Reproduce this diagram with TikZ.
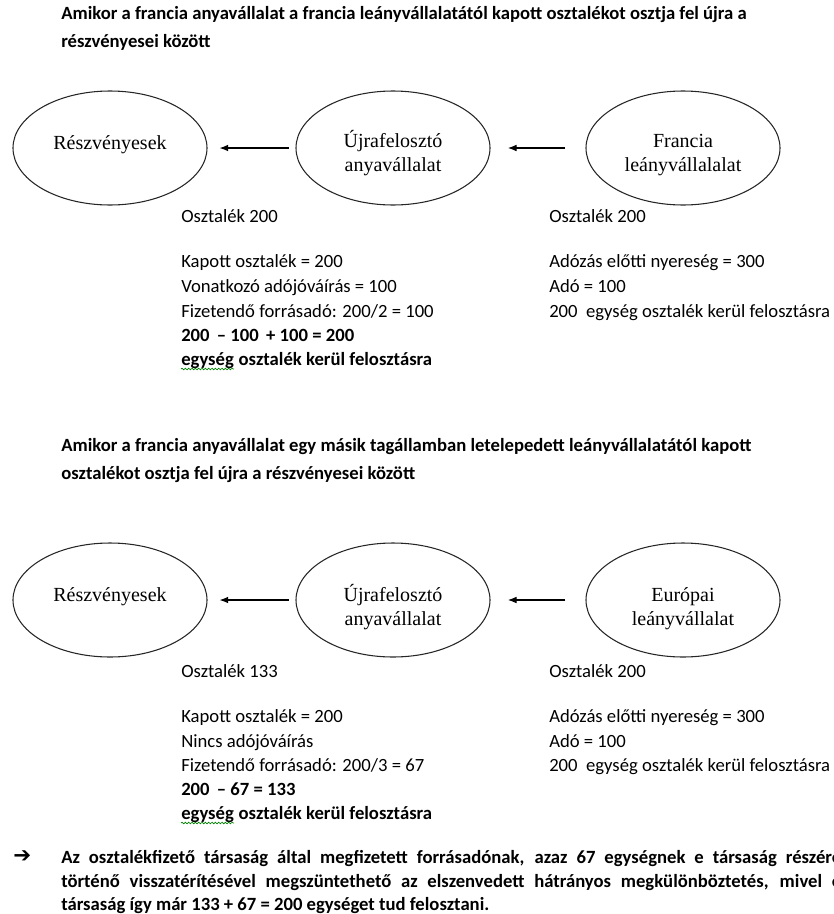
\documentclass[tikz,border=0pt]{standalone}
\usepackage{fontspec}
\setmainfont{Carlito}
\newfontfamily\tnr{Liberation Serif}
\newfontfamily\djv{DejaVu Sans}
\usetikzlibrary{arrows.meta,shapes.geometric,decorations.pathmorphing}
\begin{document}
\begin{tikzpicture}[x=0.75pt,y=-0.75pt,
  txt/.style={anchor=base west,inner sep=0pt,font=\fontsize{14}{17}\selectfont},
  btxt/.style={anchor=base west,inner sep=0pt,font=\fontsize{14}{17}\selectfont\bfseries},
  oval/.style={draw=black!85,line width=0.8pt,ellipse,minimum width=145.5pt,minimum height=85.5pt,inner sep=0pt},
  olabel/.style={inner sep=0pt,anchor=base,font=\tnr\fontsize{15}{18}\selectfont},
  arr/.style={-{Latex[length=6.5pt,width=5pt]},line width=0.8pt},
  wavy/.style={draw=green!50!black,decorate,decoration={snake,amplitude=0.6pt,segment length=2.5pt},line width=0.5pt}]
\useasboundingbox (0,0) rectangle (834,914);
\clip (0,0) rectangle (834,914);

% ---------- part 1 ----------
\node[btxt] (t1a) at (61,19) {Amikor a francia anyavállalat a francia leányvállalatától kapott osztalékot osztja fel újra a};
\node[btxt] (t1b) at (61,47) {részvényesei között};

\node[oval] (r1) at (110,148) {};
\node[oval] (u1) at (393,148) {};
\node[oval] (f1) at (683,148) {};
\node[olabel] (r1t) at (110,149) {Részvényesek};
\node[olabel] (u1a) at (393,147) {Újrafelosztó};
\node[olabel] (u1b) at (393,171) {anyavállalat};
\node[olabel] (f1a) at (683,147) {Francia};
\node[olabel] (f1b) at (683,171) {leányvállalalat};
\draw[arr,shorten <=5pt,shorten >=9pt] (u1) -- (r1);
\draw[arr,shorten <=15pt,shorten >=13pt] (f1) -- (u1);

\node[txt] (l1a) at (181,222) {Osztalék 200};
\node[txt] (l1b) at (181,267) {Kapott osztalék = 200};
\node[txt] (l1c) at (181,292) {Vonatkozó adójóváírás = 100};
\node[txt] (l1d) at (181,317) {Fizetendő forrásadó: 200/2 = 100};
\node[btxt] (l1e) at (181,341) {200 \,– 100 \,+ 100 = 200};
\node[btxt] (l1f) at (181,365) {egység};
\node[btxt,anchor=base west] (l1g) at (l1f.base east) {\ osztalék kerül felosztásra};
\draw[wavy] ([yshift=-3pt]l1f.base west) -- ([yshift=-3pt]l1f.base east);

\node[txt] (p1a) at (549,222) {Osztalék 200};
\node[txt] (p1b) at (549,267) {Adózás előtti nyereség = 300};
\node[txt] (p1c) at (549,292) {Adó = 100};
\node[txt] (p1d) at (549,317) {200\ \ egység osztalék kerül felosztásra};

% ---------- part 2 ----------
\node[btxt] (t2a) at (61,451) {Amikor a francia anyavállalat egy másik tagállamban letelepedett leányvállalatától kapott};
\node[btxt] (t2b) at (61,479) {osztalékot osztja fel újra a részvényesei között};

\node[oval] (r2) at (110,600) {};
\node[oval] (u2) at (393,600) {};
\node[oval] (f2) at (683,600) {};
\node[olabel] (r2t) at (110,601) {Részvényesek};
\node[olabel] (u2a) at (393,601) {Újrafelosztó};
\node[olabel] (u2b) at (393,625) {anyavállalat};
\node[olabel] (f2a) at (683,601) {Európai};
\node[olabel] (f2b) at (683,625) {leányvállalat};
\draw[arr,shorten <=5pt,shorten >=9pt] (u2) -- (r2);
\draw[arr,shorten <=15pt,shorten >=13pt] (f2) -- (u2);

\node[txt] (l2a) at (181,677) {Osztalék 133};
\node[txt] (l2b) at (181,722) {Kapott osztalék = 200};
\node[txt] (l2c) at (181,747) {Nincs adójóváírás};
\node[txt] (l2d) at (181,771) {Fizetendő forrásadó: 200/3 = 67};
\node[btxt] (l2e) at (181,795) {200 \,– 67 = 133};
\node[btxt] (l2f) at (181,819) {egység};
\node[btxt,anchor=base west] (l2g) at (l2f.base east) {\ osztalék kerül felosztásra};
\draw[wavy] ([yshift=-3pt]l2f.base west) -- ([yshift=-3pt]l2f.base east);

\node[txt] (p2a) at (549,677) {Osztalék 200};
\node[txt] (p2b) at (549,722) {Adózás előtti nyereség = 300};
\node[txt] (p2c) at (549,747) {Adó = 100};
\node[txt] (p2d) at (549,771) {200\ \ egység osztalék kerül felosztásra};

% ---------- conclusion ----------
\node[anchor=base west,inner sep=0pt,font=\djv\fontsize{16}{18}\selectfont\bfseries] (bul) at (13,862) {➔};
\node[btxt] (c1) at (61,863) {\makebox[585pt][s]{Az osztalékfizető társaság által megfizetett forrásadónak, azaz 67 egységnek e társaság részére}};
\node[btxt] (c2) at (61,887) {\makebox[585pt][s]{történő visszatérítésével megszüntethető az elszenvedett hátrányos megkülönböztetés, mivel e}};
\node[btxt] (c3) at (61,910) {társaság így már 133 + 67 = 200 egységet tud felosztani.};
\end{tikzpicture}
\end{document}
